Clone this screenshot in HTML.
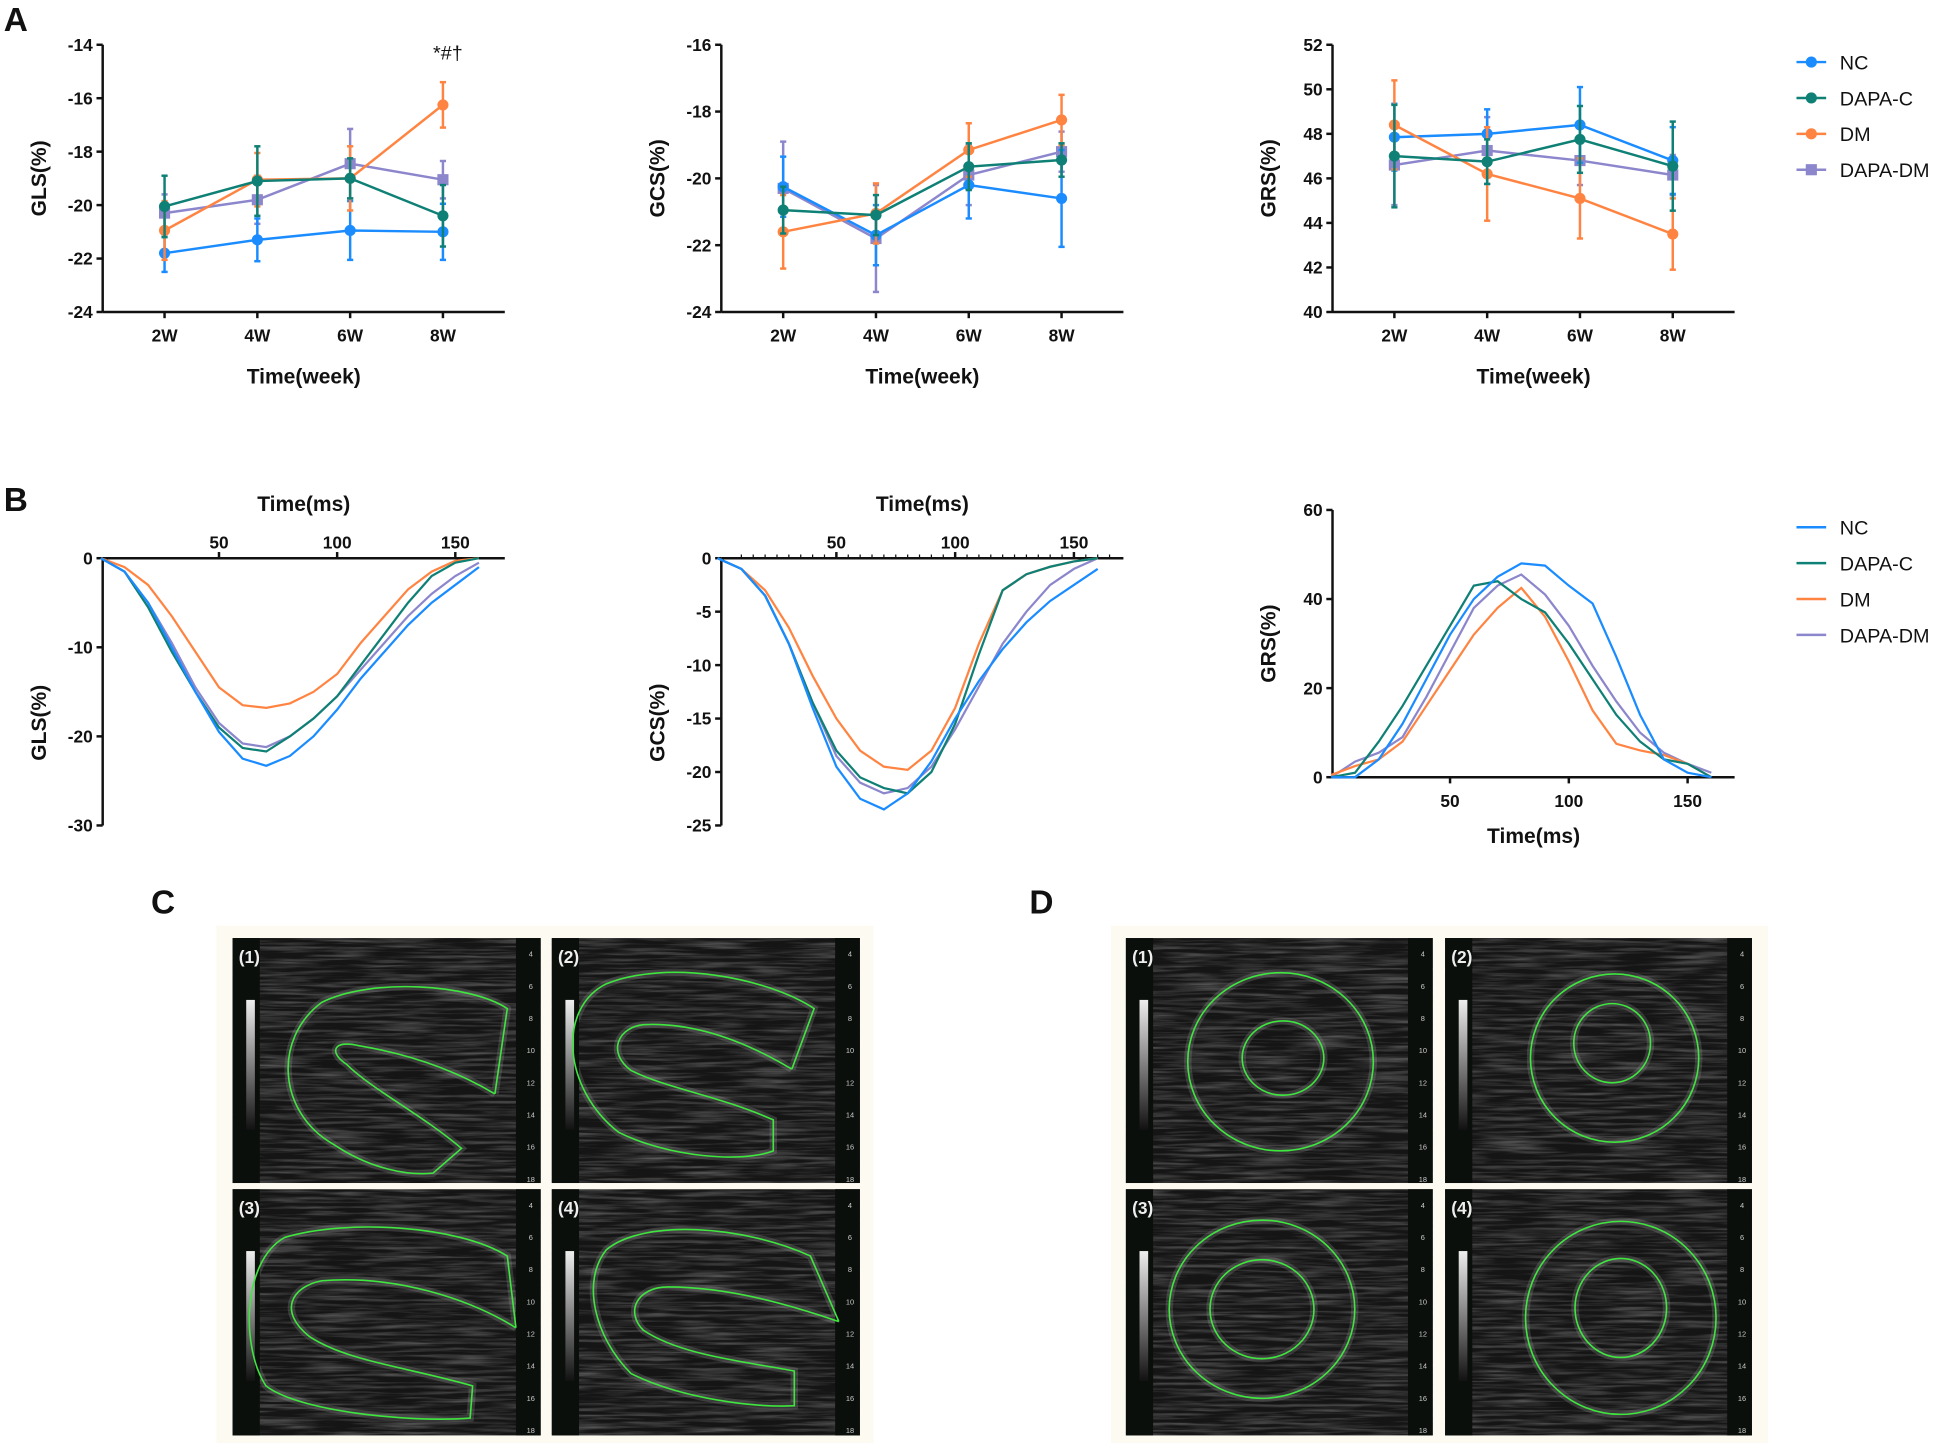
<!DOCTYPE html>
<html><head><meta charset="utf-8"><style>
html,body{margin:0;padding:0;background:#fff;}
svg{display:block;}
text{font-family:"Liberation Sans",Arial,sans-serif;}
.tk{font-size:14px;font-weight:bold;fill:#111;}
.ttl{font-size:17px;font-weight:bold;fill:#111;}
.lg{font-size:16px;fill:#111;}
.pl{font-size:27px;font-weight:bold;fill:#111;}
</style></head><body>
<svg id="fig" width="1940" height="1448" viewBox="0 0 1568 1170" xmlns="http://www.w3.org/2000/svg">
<defs>
<filter id="noise" x="0" y="0" width="100%" height="100%">
<feTurbulence type="fractalNoise" baseFrequency="0.02 0.4" numOctaves="3" seed="4"/>
<feColorMatrix type="matrix" values="0 0 0 0 1  0 0 0 0 1  0 0 0 0 1  0 0 0 1.4 -0.55"/>
</filter>
<linearGradient id="gbar" x1="0" y1="0" x2="0" y2="1"><stop offset="0" stop-color="#eee"/><stop offset="1" stop-color="#111"/></linearGradient>
</defs>
<g id="root"></g>
</svg>
<script>
const NS="http://www.w3.org/2000/svg";
const root=document.getElementById('root');
function el(tag,attrs,parent,txt){const e=document.createElementNS(NS,tag);for(const k in attrs)e.setAttribute(k,attrs[k]);if(txt!==undefined)e.textContent=txt;(parent||root).appendChild(e);return e;}
const colors={NC:'#1a8cff','DAPA-C':'#0f8075',DM:'#ff8442','DAPA-DM':'#8c86cc'};
const groups=['NC','DAPA-C','DM','DAPA-DM'];
const weeks=['2W','4W','6W','8W'];

// Panel A data
const glsMean={NC:[-21.8,-21.3,-20.95,-21.0],'DAPA-C':[-20.05,-19.1,-19.0,-20.4],DM:[-20.95,-19.05,-19.0,-16.25],'DAPA-DM':[-20.3,-19.8,-18.45,-19.05]};
const glsErr={NC:[0.7,0.8,1.1,1.05],'DAPA-C':[1.15,1.3,0.75,1.15],DM:[1.1,1.0,1.2,0.85],'DAPA-DM':[0.7,0.9,1.3,0.7]};
const gcsMean={NC:[-20.25,-21.7,-20.2,-20.6],'DAPA-C':[-20.95,-21.1,-19.65,-19.45],DM:[-21.6,-21.05,-19.15,-18.25],'DAPA-DM':[-20.3,-21.8,-19.9,-19.2]};
const gcsErr={NC:[0.9,0.9,1.0,1.45],'DAPA-C':[0.7,0.6,0.7,0.5],DM:[1.1,0.9,0.8,0.75],'DAPA-DM':[1.4,1.6,0.9,0.6]};
const grsMean={NC:[47.85,48.0,48.4,46.8],'DAPA-C':[47.0,46.75,47.75,46.55],DM:[48.4,46.2,45.1,43.5],'DAPA-DM':[46.6,47.25,46.8,46.15]};
const grsErr={NC:[1.5,1.1,1.7,1.5],'DAPA-C':[2.3,1.0,1.5,2.0],DM:[2.0,2.1,1.8,1.6],'DAPA-DM':[1.8,1.5,1.1,0.9]};
const glsTicks=[-14,-16,-18,-20,-22,-24];
const gcsTicks=[-16,-18,-20,-22,-24];
const grsTicks=[52,50,48,46,44,42,40];

// Panel B data
const tms=[0,10,20,30,40,50,60,70,80,90,100,110,120,130,140,150,160];
const bGLS={NC:[0,-1.5,-5,-10,-15,-19.5,-22.5,-23.3,-22.2,-20,-17,-13.5,-10.5,-7.5,-5,-3,-1],
'DAPA-C':[0,-1.5,-5.5,-10.5,-15,-19,-21.3,-21.7,-20,-18,-15.5,-12,-8.5,-5,-2,-0.5,0],
DM:[0,-1,-3,-6.5,-10.5,-14.5,-16.5,-16.8,-16.3,-15,-13,-9.5,-6.5,-3.5,-1.5,-0.3,0],
'DAPA-DM':[0,-1.5,-5,-9.5,-14.5,-18.5,-20.8,-21.2,-20,-18,-15.5,-12.5,-9.5,-6.5,-4,-2,-0.5]};
const bGCS={NC:[0,-1,-3.5,-8,-14,-19.5,-22.5,-23.5,-22,-19,-15,-11.5,-8.5,-6,-4,-2.5,-1],
'DAPA-C':[0,-1,-3.5,-8,-13.5,-18,-20.5,-21.5,-22,-20,-15.5,-9,-3,-1.5,-0.8,-0.3,0],
DM:[0,-1,-3,-6.5,-11,-15,-18,-19.5,-19.8,-18,-14,-8,-3,-1.5,-0.8,-0.3,0],
'DAPA-DM':[0,-1,-3.5,-8,-13.5,-18.5,-21,-22,-21.5,-19.5,-16,-12,-8,-5,-2.5,-1,0]};
const bGRS={NC:[0,0,4,12,22,32,40,45,48,47.5,43,39,27,14,4,1,0],
'DAPA-C':[0,1,8,16,25,34,43,44,40,37,30,22,14,8,4,3,0],
DM:[0.5,2.5,4,8,16,24,32,38,42.5,36,26,15,7.5,6,5,3,0],
'DAPA-DM':[0,3.5,5.5,9,18,28,38,43,45.5,41,34,25,17,10,5.5,3,1]};
const glsBTicks=[0,-10,-20,-30];
const gcsBTicks=[0,-5,-10,-15,-20,-25];
const grsBTicks=[0,20,40,60];
const msTicks=[50,100,150];

function lineChart(name,ox,x1,top,bot,ymax,ymin,ticks,mean,err,ylabel,star){
  const g=el('g',{},root);
  
  
  const y=v=>top+(ymax-v)/(ymax-ymin)*(bot-top);
  const xs=i=>ox+50+i*75;
  el('line',{x1:ox,y1:top,x2:ox,y2:bot,stroke:'#111','stroke-width':2},g);
  el('line',{x1:ox,y1:bot,x2:x1,y2:bot,stroke:'#111','stroke-width':2},g);
  ticks.forEach(t=>{el('line',{x1:ox-5,y1:y(t),x2:ox,y2:y(t),stroke:'#111','stroke-width':2},g);
    const tx=el('text',{x:ox-8,y:y(t)+5,'text-anchor':'end',class:'tk'},g,String(t));
    });
  weeks.forEach((w,i)=>{el('line',{x1:xs(i),y1:bot,x2:xs(i),y2:bot+5,stroke:'#111','stroke-width':2},g);
    const tx=el('text',{x:xs(i),y:bot+24,'text-anchor':'middle',class:'tk'},g,w);
    });
  const xt=el('text',{x:(ox+x1)/2,y:bot+58,'text-anchor':'middle',class:'ttl'},g,'Time(week)');
  
  const yt=el('text',{x:0,y:0,transform:`translate(${ox-46},${(top+bot)/2}) rotate(-90)`,'text-anchor':'middle',class:'ttl'},g,ylabel);
  
  [ 'DAPA-DM','NC','DM','DAPA-C'].forEach(k=>{
    const c=colors[k];const m=mean[k],e=err[k];
    const s=el('g',{},g);
    
    
    el('polyline',{points:m.map((v,i)=>xs(i)+','+y(v)).join(' '),fill:'none',stroke:c,'stroke-width':2},s);
    m.forEach((v,i)=>{
      el('line',{x1:xs(i),y1:y(v-e[i]),x2:xs(i),y2:y(v+e[i]),stroke:c,'stroke-width':2},s);
      el('line',{x1:xs(i)-2.5,y1:y(v-e[i]),x2:xs(i)+2.5,y2:y(v-e[i]),stroke:c,'stroke-width':2},s);
      el('line',{x1:xs(i)-2.5,y1:y(v+e[i]),x2:xs(i)+2.5,y2:y(v+e[i]),stroke:c,'stroke-width':2},s);
      if(k==='DAPA-DM'){const r=el('rect',{x:xs(i)-4.5,y:y(v)-4.5,width:9,height:9,fill:c},s);}
      else{const p=el('circle',{cx:xs(i),cy:y(v),r:4.5,fill:c},s);}
    });
  });
  if(star){const st=el('text',{x:xs(3)+4,y:48,'text-anchor':'middle',class:'lg'},g,'*#†');}
}
lineChart('gls-week-chart',83,408,36,252,-14,-24,glsTicks,glsMean,glsErr,'GLS(%)',true);
lineChart('gcs-week-chart',583,908,36,252,-16,-24,gcsTicks,gcsMean,gcsErr,'GCS(%)',false);
lineChart('grs-week-chart',1077,1402,36,252,52,40,grsTicks,grsMean,grsErr,'GRS(%)',false);

function legend(name,y0,markers){
  const g=el('g',{},root);
  
  
  groups.forEach((k,i)=>{const y=y0+i*29;const c=colors[k];
    const it=el('g',{},g);
    
    
    el('line',{x1:1452,y1:y,x2:1476,y2:y,stroke:c,'stroke-width':2},it);
    if(markers){if(k==='DAPA-DM')el('rect',{x:1459.5,y:y-4.5,width:9,height:9,fill:c},it);else el('circle',{cx:1464,cy:y,r:4.5,fill:c},it);}
    el('text',{x:1487,y:y+6,class:'lg'},it,k);});
}
legend('legend-a',50,true);
legend('legend-b',426,false);

function curveChart(name,ox,x1,zeroX,pxms,top,bot,ymax,ymin,ticks,data,ylabel,topAxis,minor){
  const g=el('g',{},root);
  
  
  const y=v=>top+(ymax-v)/(ymax-ymin)*(bot-top);
  const x=t=>zeroX+t*pxms;
  const axY=topAxis?top:bot;
  el('line',{x1:ox,y1:top,x2:ox,y2:bot,stroke:'#111','stroke-width':2},g);
  el('line',{x1:ox,y1:axY,x2:x1,y2:axY,stroke:'#111','stroke-width':2},g);
  ticks.forEach(t=>{el('line',{x1:ox-5,y1:y(t),x2:ox,y2:y(t),stroke:'#111','stroke-width':2},g);
    const tx=el('text',{x:ox-8,y:y(t)+5,'text-anchor':'end',class:'tk'},g,String(t));
    });
  if(minor){for(let t=10;t<=165;t+=5){el('line',{x1:x(t),y1:axY,x2:x(t),y2:axY+(topAxis?-3:3),stroke:'#111','stroke-width':1},g);}}
  msTicks.forEach(t=>{el('line',{x1:x(t),y1:axY,x2:x(t),y2:axY+(topAxis?-5:5),stroke:'#111','stroke-width':2},g);
    const tx=el('text',{x:x(t),y:topAxis?axY-8:axY+24,'text-anchor':'middle',class:'tk'},g,String(t));
    });
  const xt=el('text',{x:(ox+x1)/2,y:topAxis?top-38:bot+53,'text-anchor':'middle',class:'ttl'},g,'Time(ms)');
  
  const yt=el('text',{x:0,y:0,transform:`translate(${ox-46},${(top+bot)/2+(topAxis?25:0)}) rotate(-90)`,'text-anchor':'middle',class:'ttl'},g,ylabel);
  
  ['DAPA-DM','DM','DAPA-C','NC'].forEach(k=>{
    const p=el('polyline',{points:data[k].map((v,i)=>x(tms[i])+','+y(v)).join(' '),fill:'none',stroke:colors[k],'stroke-width':1.8},g);
    
    
  });
}
curveChart('gls-time-chart',83,408,81.5,1.91,451,667,0,-30,glsBTicks,bGLS,'GLS(%)',true,false);
curveChart('gcs-time-chart',583,908,580,1.92,451,667,0,-25,gcsBTicks,bGCS,'GCS(%)',true,true);
curveChart('grs-time-chart',1077,1402,1076,1.92,412,628,60,0,grsBTicks,bGRS,'GRS(%)',false,false);

// panel letters
[['A',3,25],['B',3,413],['C',122,738],['D',832,738]].forEach(([t,x,y])=>{const p=el('text',{x:x,y:y,class:'pl'},root,t);});

// ultrasound images
function usPanel(x,y,w,h,lab,shapes){
  const g=el('g',{},root);
  
  
  el('rect',{x:x,y:y,width:w,height:h,fill:'#151515'},g);
  el('rect',{x:x,y:y,width:w,height:h,filter:'url(#noise)',opacity:0.4},g);
  shapes.forEach(d=>el('path',{d:d,fill:'none',stroke:'#9a9a9a','stroke-width':6,opacity:0.25},g));
  el('rect',{x:x,y:y,width:22,height:h,fill:'#0b0f0c'},g);
  el('rect',{x:x+11,y:y+50,width:7,height:105,fill:'url(#gbar)'},g);
  el('rect',{x:x+w-20,y:y,width:20,height:h,fill:'#0b0f0c'},g);
  for(let i=0;i<8;i++){el('text',{x:x+w-8,y:y+15+i*26,'font-size':6,fill:'#ccc','text-anchor':'middle'},g,String(4+i*2));}
  el('text',{x:x+5,y:y+20,'font-size':14,'font-weight':'bold',fill:'#eee','font-family':'Liberation Serif,serif'},g,lab);
  shapes.forEach(d=>el('path',{d:d,fill:'none',stroke:'#3ee63e','stroke-width':1.3},g));
}
el('rect',{x:175,y:748,width:531,height:418,fill:'#fdfaf1'});
el('rect',{x:898,y:748,width:531,height:418,fill:'#fdfaf1'});
usPanel(188,758,249,198,'(1)',['M400,884 L410,815 C380,795 300,790 260,810 C220,840 225,900 270,925 C300,945 330,950 350,948 L373,928 C340,900 300,880 280,860 C265,850 270,840 290,845 C320,850 360,860 400,884']);
usPanel(446,758,249,198,'(2)',['M640,864 L658,815 C620,790 540,775 490,795 C450,815 455,880 500,915 C540,935 600,940 625,930 L625,905 C580,885 540,880 510,865 C490,850 500,830 520,828 C560,826 600,840 640,864']);
usPanel(188,961,249,199,'(3)',['M417,1073 L410,1015 C370,990 280,985 230,1000 C195,1020 195,1090 215,1120 C240,1140 330,1150 380,1146 L382,1120 C330,1105 280,1100 250,1080 C225,1060 235,1040 260,1035 C320,1030 380,1050 417,1073']);
usPanel(446,961,249,199,'(4)',['M678,1068 L655,1015 C600,990 520,985 490,1010 C470,1035 480,1080 510,1110 C550,1130 610,1138 642,1136 L642,1108 C600,1100 550,1095 520,1075 C505,1060 515,1040 540,1040 C590,1040 640,1055 678,1068']);
const ell=(cx,cy,rx,ry)=>`M${cx-rx},${cy} A${rx},${ry} 0 1,0 ${cx+rx},${cy} A${rx},${ry} 0 1,0 ${cx-rx},${cy}`;
usPanel(910,758,248,198,'(1)',[ell(1035,858,75,72),ell(1037,855,33,30)]);
usPanel(1168,758,248,198,'(2)',[ell(1305,855,68,68),ell(1303,843,31,32)]);
usPanel(910,961,248,199,'(3)',[ell(1020,1058,75,72),ell(1020,1058,42,40)]);
usPanel(1168,961,248,199,'(4)',[ell(1310,1065,77,78),ell(1310,1057,37,40)]);
</script>
</body></html>
